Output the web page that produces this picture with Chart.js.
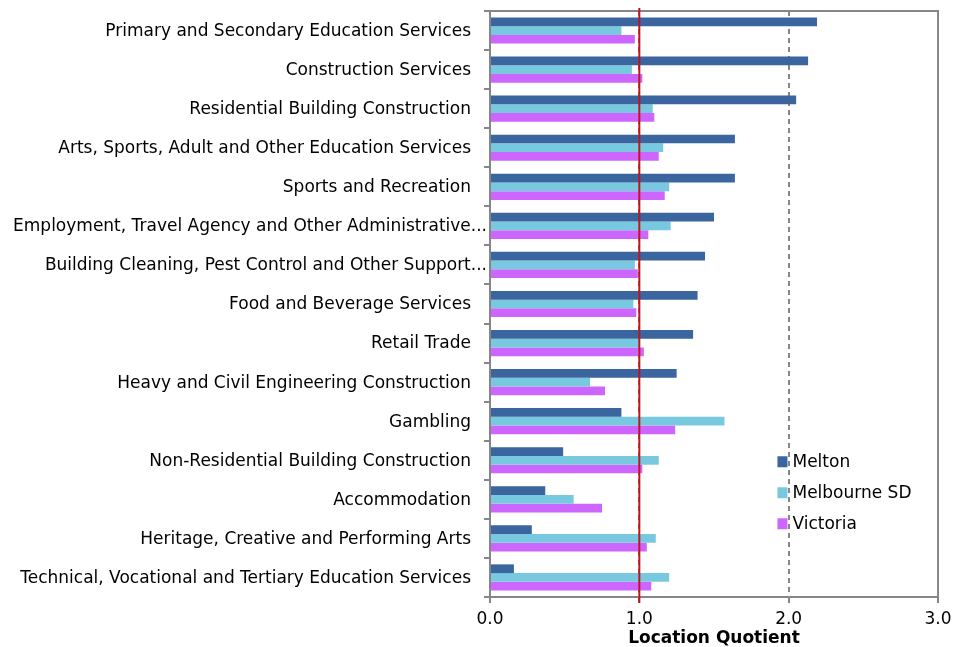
<!DOCTYPE html>
<html>
<head>
<meta charset="utf-8">
<script src="https://cdn.jsdelivr.net/npm/chart.js@4"></script>
<style>
html,body{margin:0;padding:0;background:#fff;}
#wrap{width:955px;height:647px;position:relative;}
</style>
</head>
<body>
<div id="wrap"><canvas id="c" width="955" height="647"></canvas></div>
<script>
const categories = [
  "Primary and Secondary Education Services",
  "Construction Services",
  "Residential Building Construction",
  "Arts, Sports, Adult and Other Education Services",
  "Sports and Recreation",
  "Employment, Travel Agency and Other Administrative...",
  "Building Cleaning, Pest Control and Other Support...",
  "Food and Beverage Services",
  "Retail Trade",
  "Heavy and Civil Engineering Construction",
  "Gambling",
  "Non-Residential Building Construction",
  "Accommodation",
  "Heritage, Creative and Performing Arts",
  "Technical, Vocational and Tertiary Education Services"
];
const melton     = [2.19, 2.13, 2.05, 1.64, 1.64, 1.50, 1.44, 1.39, 1.36, 1.25, 0.88, 0.49, 0.37, 0.28, 0.16];
const melbourne  = [0.88, 0.95, 1.09, 1.16, 1.20, 1.21, 0.97, 0.96, 1.00, 0.67, 1.57, 1.13, 0.56, 1.11, 1.20];
const victoria   = [0.97, 1.02, 1.10, 1.13, 1.17, 1.06, 0.99, 0.98, 1.03, 0.77, 1.24, 1.02, 0.75, 1.05, 1.08];
const seriesNames = ["Melton", "Melbourne SD", "Victoria"];
const xTicks = [0, 1, 2, 3];
const referenceValue = 1.0;
const axisTitle = "Location Quotient";

const FONT = "'DejaVu Sans', Tahoma, sans-serif";
const GRAY = "#868686";

const refLine = {
  id: "refLine",
  afterDatasetsDraw(chart) {
    const {ctx, chartArea, scales} = chart;
    const x = scales.x.getPixelForValue(referenceValue);
    ctx.save();
    ctx.strokeStyle = "#C0141C";
    ctx.lineWidth = 2;
    ctx.beginPath();
    ctx.moveTo(x, chartArea.top - 3);
    ctx.lineTo(x, chartArea.bottom + 6);
    ctx.stroke();
    ctx.restore();
  }
};

const frame = {
  id: "frame",
  beforeDatasetsDraw(chart) {
    const {ctx, chartArea} = chart;
    ctx.save();
    ctx.strokeStyle = GRAY;
    ctx.lineWidth = 2;
    ctx.beginPath();
    ctx.moveTo(chartArea.left, chartArea.top);
    ctx.lineTo(chartArea.right, chartArea.top);
    ctx.lineTo(chartArea.right, chartArea.bottom);
    ctx.stroke();
    ctx.restore();
  }
};

const yLabels = {
  id: "yLabels",
  afterDraw(chart) {
    const {ctx, chartArea, scales} = chart;
    ctx.save();
    ctx.font = "17px " + FONT;
    ctx.fillStyle = "#000";
    ctx.textAlign = "right";
    ctx.textBaseline = "middle";
    chart.data.labels.forEach((lab, i) => {
      const truncated = lab.endsWith("...");
      const x = chartArea.left - (truncated ? 3 : 19);
      ctx.fillText(lab, x, scales.y.getPixelForTick(i) + 1);
    });
    ctx.restore();
  }
};

const boxLegend = {
  id: "boxLegend",
  afterDraw(chart) {
    const {ctx, scales} = chart;
    const x0 = scales.x.getPixelForValue(1.925);
    const yStart = scales.y.getPixelForValue(11) + 1;
    ctx.save();
    ctx.font = "17px " + FONT;
    ctx.textBaseline = "middle";
    chart.data.datasets.forEach((ds, i) => {
      const y = yStart + i * 31;
      ctx.fillStyle = ds.backgroundColor;
      ctx.fillRect(x0, y - 5, 10, 11);
      ctx.fillStyle = "#000";
      ctx.fillText(ds.label, x0 + 15, y + 1);
    });
    ctx.restore();
  }
};

const colors = ["#3A659E", "#78C9E0", "#CC66FF"];
const values = [melton, melbourne, victoria];

new Chart(document.getElementById("c"), {
  type: "bar",
  data: {
    labels: categories,
    datasets: seriesNames.map((n, i) => ({
      label: n,
      data: values[i],
      backgroundColor: colors[i],
      borderWidth: 0,
      barPercentage: 1.0,
      categoryPercentage: 0.67
    }))
  },
  options: {
    indexAxis: "y",
    responsive: false,
    animation: false,
    devicePixelRatio: 1,
    layout: { padding: { top: 11, right: 17, left: 0, bottom: 0 } },
    plugins: { legend: { display: false }, tooltip: { enabled: false } },
    scales: {
      x: {
        min: 0, max: 3,
        afterBuildTicks(scale) { scale.ticks = xTicks.map(v => ({ value: v })); },
        afterFit(scale) { scale.height = 50; scale.paddingRight = 0; scale.paddingLeft = 0; },
        ticks: {
          font: { family: FONT, size: 17 },
          color: "#000",
          padding: 6,
          callback: v => Number(v).toFixed(1)
        },
        grid: {
          color: (c) => c.tick && (c.tick.value === 0 || c.tick.value === 3) ? "rgba(0,0,0,0)" : GRAY,
          lineWidth: 2,
          tickLength: 6,
          tickColor: GRAY,
          drawOnChartArea: true
        },
        border: { color: GRAY, width: 2, dash: [5, 4] },
        title: {
          display: true,
          text: axisTitle,
          font: { family: FONT, size: 17, weight: "bold" },
          color: "#000",
          padding: { top: -4, bottom: -2 }
        }
      },
      y: {
        afterFit(scale) { scale.width = 490; },
        ticks: { display: false },
        grid: {
          offset: true,
          drawOnChartArea: false,
          tickLength: 6,
          tickColor: GRAY,
          lineWidth: 2
        },
        border: { color: GRAY, width: 2 }
      }
    }
  },
  plugins: [frame, refLine, yLabels, boxLegend]
});
</script>
</body>
</html>
